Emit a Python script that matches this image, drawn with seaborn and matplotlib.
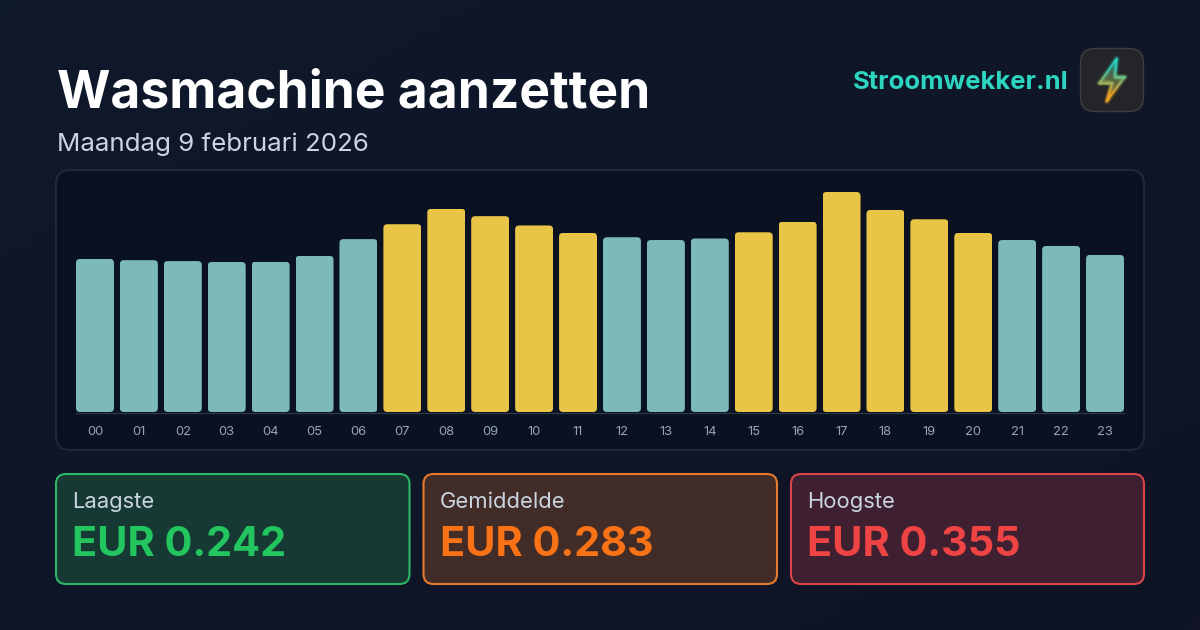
import numpy as np
import pandas as pd
import matplotlib
matplotlib.use("Agg")
import matplotlib.pyplot as plt
import seaborn as sns
from matplotlib.collections import LineCollection
from matplotlib.patches import FancyBboxPatch, Polygon

# === DATA ===
HOURS = [f"{h:02d}" for h in range(24)]
PRICES = [0.247, 0.245, 0.2435, 0.242, 0.2425, 0.252, 0.279, 0.303,
          0.328, 0.316, 0.301, 0.289, 0.282, 0.2775, 0.280, 0.290,
          0.307, 0.355, 0.326, 0.311, 0.289, 0.2775, 0.268, 0.2535]
ZONES = ["laag", "laag", "laag", "laag", "laag", "laag", "laag", "hoog",
         "hoog", "hoog", "hoog", "hoog", "laag", "laag", "laag", "hoog",
         "hoog", "hoog", "hoog", "hoog", "hoog", "laag", "laag", "laag"]
ZONE_COLORS = {"laag": "#7cb9ba", "hoog": "#e8c547"}

TITLE = "Wasmachine aanzetten"
SUBTITLE = "Maandag 9 februari 2026"
BRAND = "Stroomwekker.nl"
STAT_LABELS = ["Laagste", "Gemiddelde", "Hoogste"]
STAT_VALUES = ["EUR 0.242", "EUR 0.283", "EUR 0.355"]

W, H = 1200, 630

sns.set_theme(style="white")
plt.rcParams["font.family"] = ["Inter", "DejaVu Sans"]


def px(size):
    # font size in pixels -> points at dpi 100
    return size * 0.72


def rounded(ax, x0, y0, x1, y1, r, **kw):
    box = FancyBboxPatch((x0 + r, y0 + r), x1 - x0 - 2 * r, y1 - y0 - 2 * r,
                         boxstyle=f"round,pad={r},rounding_size={r}", **kw)
    ax.add_patch(box)
    return box


fig = plt.figure(figsize=(W / 100, H / 100), dpi=100)

# === background layer, in pixel coordinates ===
bg = fig.add_axes([0, 0, 1, 1], zorder=0)
bg.set_xlim(0, W)
bg.set_ylim(H, 0)
bg.axis("off")

c0 = np.array([0x0e, 0x19, 0x2b]) / 255
c1 = np.array([0x10, 0x14, 0x25]) / 255
xx, yy = np.meshgrid(np.linspace(0, 1, 120), np.linspace(0, 1, 64))
t = ((xx + yy) / 2)[..., None]
bg.imshow(c0 * (1 - t) + c1 * t, extent=[0, W, H, 0], aspect="auto", zorder=0)

# chart panel
rounded(bg, 56, 170, 1144, 450, 14, facecolor="#0a1120", edgecolor="#1e293b",
        linewidth=1.5, zorder=1)

# === bars ===
ax = fig.add_axes([73 / W, 1 - 412 / H, (1127 - 73) / W, 220 / H], zorder=2)
ax.patch.set_alpha(0)
df = pd.DataFrame({"uur": HOURS, "prijs": PRICES, "zone": ZONES})
sns.barplot(data=df, x="uur", y="prijs", hue="zone", palette=ZONE_COLORS,
            dodge=False, width=0.865, legend=False, saturation=1, linewidth=0, ax=ax)
ax.set_xlim(-0.5, 23.5)
ax.set_ylim(0, 0.355)
ax.set_xlabel("")
ax.set_ylabel("")
ax.set_yticks([])
sns.despine(ax=ax, left=True, bottom=True)
ax.tick_params(axis="x", length=0, pad=10, labelsize=px(13), labelcolor="#94a3b8")

# rounded bar corners
for bar in ax.patches:
    if bar.get_height() <= 0:
        continue
    bar.set_edgecolor("none")
    ext = bar.get_window_extent()
    clip = rounded(bg, ext.x0, H - ext.y1, ext.x1, H - ext.y0, 4,
                   facecolor="none", edgecolor="none", zorder=0)
    bar.set_clip_path(clip)

bg.plot([76, 1124], [412.5, 412.5], color="#2a3547", linewidth=1, zorder=1.5)

# === header ===
bg.text(57, 94, TITLE, fontsize=px(51.5), fontweight="bold", color="#ffffff",
        va="center", ha="left")
bg.text(57, 144, SUBTITLE, fontsize=px(25.9), color="#cbd5e1", va="center", ha="left")
bg.text(1068.5, 82.5, BRAND, fontsize=px(25.6), fontweight="bold", color="#2dd4bf",
        va="center", ha="right")

# === logo ===
rounded(bg, 1080.5, 48.5, 1143.5, 111.5, 14, facecolor="#242528",
        edgecolor="#3a3d42", linewidth=1, zorder=1)
bolt = np.array([(1116.7, 58.5), (1099.3, 83.3), (1112, 83.3), (1106.7, 101.5),
                 (1125, 76.7), (1115, 76.7), (1116.7, 58.5)])
teal = np.array(matplotlib.colors.to_rgb("#2dd4bf"))
amber = np.array(matplotlib.colors.to_rgb("#f5a623"))
base = np.array([0.14, 0.15, 0.16])

grad = np.linspace(0, 1, 50)[:, None, None]
fill = (teal * 0.35 + base * 0.65) * (1 - grad) + (amber * 0.5 + base * 0.5) * grad
img = bg.imshow(fill, extent=[1099, 1125, 102, 58], aspect="auto", zorder=2)
img.set_clip_path(Polygon(bolt, closed=True, transform=bg.transData))
bg.set_xlim(0, W)
bg.set_ylim(H, 0)

# outline split in short pieces so the colour can run from teal to amber
pts = []
for a, b in zip(bolt[:-1], bolt[1:]):
    pts.extend(a + (b - a) * s for s in np.linspace(0, 1, 12, endpoint=False))
pts.append(bolt[-1])
pts = np.array(pts)
segs = np.stack([pts[:-1], pts[1:]], axis=1)
mix = np.clip((segs[:, :, 1].mean(axis=1) - 68) / 26, 0, 1)[:, None]
cols = teal * (1 - mix) + amber * mix
for lw, alpha in [(4.5, 0.07), (3, 0.12), (1.8, 0.22)]:
    bg.add_collection(LineCollection(segs, colors=cols, linewidths=lw, alpha=alpha,
                                     capstyle="round", zorder=2.5))
bg.add_collection(LineCollection(segs, colors=cols, linewidths=0.7, capstyle="round",
                                 zorder=3))

# === stat cards ===
CARD_X = [(56, 409.5), (423.5, 777), (791, 1144)]
CARD_FILL = ["#163a33", "#422c27", "#3e2030"]
CARD_EDGE = ["#2db665", "#e47a2c", "#dc4448"]
VALUE_COLOR = ["#22c55e", "#f97316", "#ef4444"]
for (x0, x1), lab, val, fc, ec, vc in zip(CARD_X, STAT_LABELS, STAT_VALUES,
                                          CARD_FILL, CARD_EDGE, VALUE_COLOR):
    rounded(bg, x0, 474, x1, 584, 10, facecolor=fc, edgecolor=ec, linewidth=1.5, zorder=1)
    bg.text(x0 + 16, 502, lab, fontsize=px(22), color="#cbd5e1", va="center", ha="left")
    bg.text(x0 + 16, 545, val, fontsize=px(41.4), fontweight="bold", color=vc,
            va="center", ha="left")

fig.savefig("out.png", dpi=100)
